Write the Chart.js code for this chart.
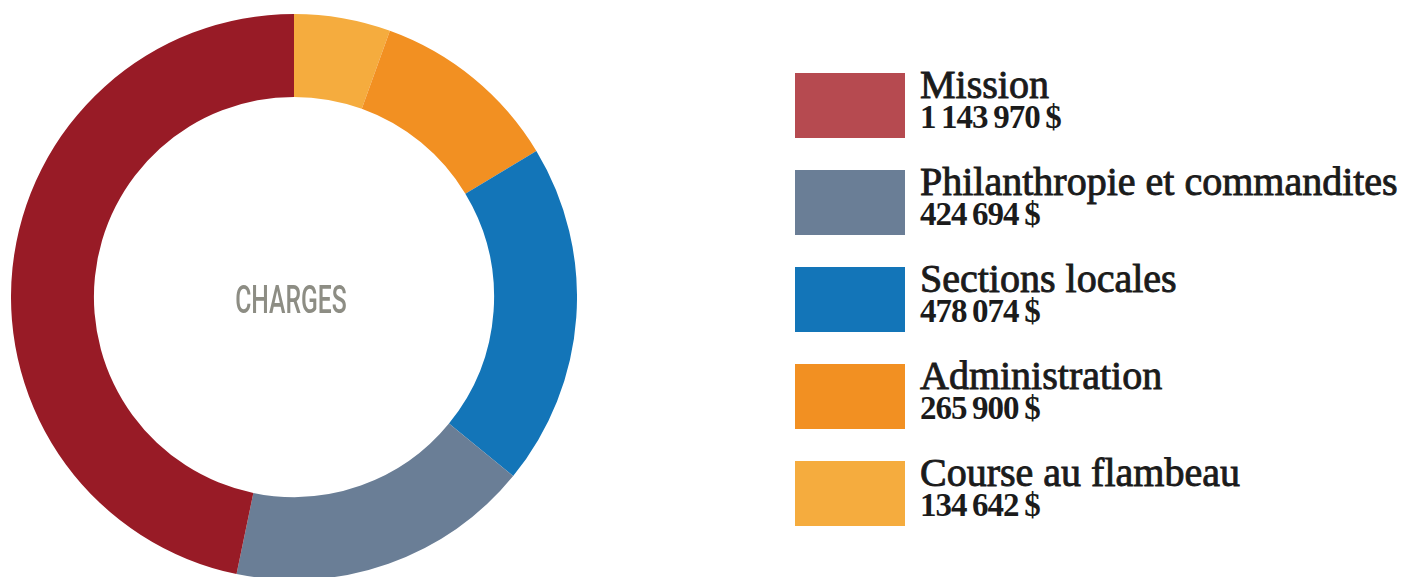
<!DOCTYPE html>
<html>
<head>
<meta charset="utf-8">
<script src="https://cdn.jsdelivr.net/npm/chart.js@4/dist/chart.umd.min.js"></script>
<style>
  body { margin: 0; background: #fff; width: 1412px; height: 577px; overflow: hidden; position: relative; }
  #charges { position: absolute; left: 11px; top: 14px; }
  .center { position: absolute; left: 191px; width: 200px; top: 280px; text-align: center;
    font-family: Roboto, "DejaVu Sans Condensed", sans-serif; font-weight: 500;
    font-size: 38px; line-height: 40px; color: #8d8d84; transform: scaleX(0.65); }
  #legend { position: absolute; left: 795px; top: 73px; }
  .item { display: flex; height: 65px; margin-bottom: 32px; }
  .box { width: 110px; height: 65px; flex: none; }
  .txt { margin-left: 15px; margin-top: -3px; font-family: "Liberation Serif", "DejaVu Serif", serif;
    font-size: 40px; line-height: 30px; color: #1b1b1b; white-space: nowrap;
    -webkit-text-stroke: 0.9px #1b1b1b; }
  .amt { font-size: 33px; font-weight: bold; letter-spacing: -1px; -webkit-text-stroke: 0; }
</style>
</head>
<body>
<canvas id="charges" width="566" height="566"></canvas>
<div class="center">CHARGES</div>
<div id="legend"></div>
<script>
// order as drawn clockwise from the top
const labels = ['Course au flambeau', 'Administration', 'Sections locales', 'Philanthropie et commandites', 'Mission'];
const amounts = [134642, 265900, 478074, 424694, 1143970];
const amountLabels = ['134\u2009642\u2009$', '265\u2009900\u2009$', '478\u2009074\u2009$', '424\u2009694\u2009$', '1\u2009143\u2009970\u2009$'];
const colors = ['#f5ac3e', '#f29022', '#1375b8', '#6a7e96', '#981b26'];
const legendColors = ['#f5ac3e', '#f29022', '#1375b8', '#6a7e96', '#b64a50'];

new Chart(document.getElementById('charges'), {
  type: 'doughnut',
  data: {
    labels: labels,
    datasets: [{
      data: amounts,
      backgroundColor: colors,
      borderWidth: 0
    }]
  },
  options: {
    responsive: false,
    animation: false,
    cutout: '70.7%',
    layout: { padding: 0 },
    plugins: {
      legend: { display: false },
      tooltip: { enabled: false }
    }
  }
});

// legend lists Mission first
const legend = document.getElementById('legend');
for (let i = labels.length - 1; i >= 0; i--) {
  const item = document.createElement('div');
  item.className = 'item';
  item.innerHTML = '<div class="box" style="background:' + legendColors[i] + '"></div>' +
    '<div class="txt">' + labels[i] + '<br><span class="amt">' + amountLabels[i] + '</span></div>';
  legend.appendChild(item);
}
</script>
</body>
</html>
